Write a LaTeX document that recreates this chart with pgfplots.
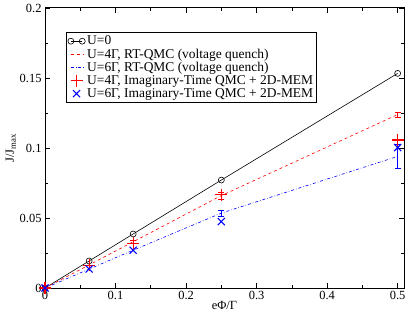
\documentclass[border=0pt]{standalone}
\usepackage{fontspec}
\setmainfont{Liberation Serif}
\usepackage{pgfplots}
\pgfplotsset{compat=1.18}
\usetikzlibrary{calc}
\pgfplotsset{
  twomark legend/.style={legend image code/.code={\draw[##1] plot coordinates {(0cm,0cm) (0.4cm,0cm)};}},
  shortline legend/.style={legend image code/.code={\draw[##1] (0cm,0cm) -- (0.45cm,0cm);}},
  onemark legend/.style={legend image code/.code={\draw[##1] plot coordinates {(0.2cm,0cm)};}},
}
\begin{document}
\begin{tikzpicture}
\begin{axis}[
  name=ax,
  scale only axis,
  width=359bp, height=280bp,
  xmin=0, xmax=0.509, ymin=0, ymax=0.2,
  xtick={0,0.1,0.2,0.3,0.4,0.5},
  xticklabels={0,0.1,0.2,0.3,0.4,0.5},
  ytick={0,0.05,0.1,0.15,0.2},
  yticklabels={0,0.05,0.1,0.15,0.2},
  minor x tick num=1, minor y tick num=1,
  major tick length=5bp, minor tick length=3bp,
  tick style={black, line width=0.6pt},
  axis line style={line width=1pt},
  tick label style={font=\fontsize{12.5}{14}\selectfont},
  label style={font=\fontsize{12.5}{14}\selectfont},
  xlabel={eΦ/Γ},
  ylabel={J/J\textsubscript{max}},
  xlabel style={yshift=6bp},
  ylabel style={yshift=-3bp},
  legend cell align=left,
  legend style={at={(axis description cs:0.0585,0.914)}, anchor=north west,
    font=\fontsize{13.5}{15}\selectfont, draw=black, line width=0.8pt,
    inner sep=1.5pt, row sep=-1.5pt},
]
\addplot[black, line width=0.6pt, mark=o, mark size=3bp, twomark legend]
  coordinates {(0,0) (0.0625,0.0193) (0.125,0.0386) (0.25,0.0771) (0.5,0.1533)};
\addlegendentry{U=0}
\addplot[red, line width=0.6pt, dashed, mark=none, shortline legend]
  coordinates {(0,0) (0.0625,0.0165) (0.125,0.033) (0.25,0.066) (0.5,0.1239)};
\addlegendentry{U=4Γ, RT-QMC (voltage quench)}
\addplot[blue, line width=0.6pt, dash dot, mark=none, shortline legend]
  coordinates {(0,0) (0.0625,0.0135) (0.125,0.027) (0.25,0.0535) (0.5,0.094)};
\addlegendentry{U=6Γ, RT-QMC (voltage quench)}
\addplot[red, only marks, mark=+, mark size=6bp, line width=1.1pt, onemark legend]
  coordinates {(0,0) (0.0625,0.0162) (0.125,0.032) (0.25,0.0667) (0.5,0.1057)};
\addlegendentry{U=4Γ, Imaginary-Time QMC + 2D-MEM}
\addplot[blue, only marks, mark=x, mark size=5bp, line width=1.1pt, onemark legend]
  coordinates {(0,0) (0.0625,0.0136) (0.125,0.027) (0.25,0.0474) (0.5,0.1003)};
\addlegendentry{U=6Γ, Imaginary-Time QMC + 2D-MEM}
% error bars of the RT-QMC series
\addplot[red, only marks, mark=*, mark options={draw opacity=0, fill opacity=0}, forget plot,
  error bars/y dir=both, error bars/y explicit,
  error bars/error bar style={red, solid, line width=0.7pt, draw opacity=1},
  error bars/error mark options={red, solid, rotate=90, mark size=3bp, line width=0.7pt, draw opacity=1}]
  coordinates {(0.125,0.033) +- (0,0.0012) (0.25,0.066) +- (0,0.0025) (0.5,0.1239) +- (0,0.0018)};
\addplot[blue, only marks, mark=*, mark options={draw opacity=0, fill opacity=0}, forget plot,
  error bars/y dir=both, error bars/y explicit,
  error bars/error bar style={blue, solid, line width=0.7pt, draw opacity=1},
  error bars/error mark options={blue, solid, rotate=90, mark size=3bp, line width=0.7pt, draw opacity=1}]
  coordinates {(0.25,0.0535) +- (0,0.0022) (0.5,0.094) +- (0,0.0085)};
\end{axis}
\pgfresetboundingbox
\path ($(ax.south west)+(-45bp,-27bp)$) rectangle ($(ax.north east)+(3bp,8bp)$);
\end{tikzpicture}
\end{document}
